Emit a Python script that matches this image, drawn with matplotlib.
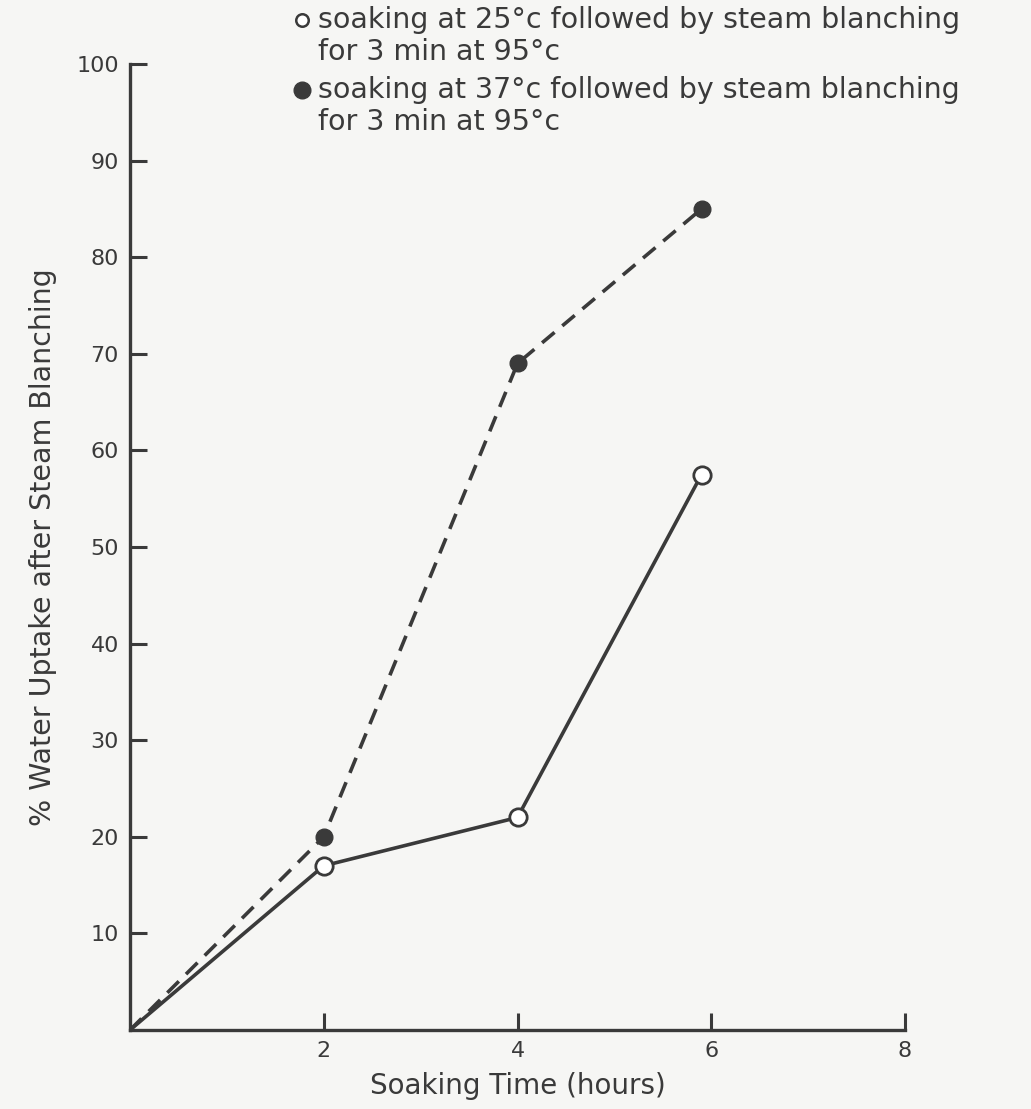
import matplotlib
matplotlib.use('Agg')
import matplotlib.pyplot as plt
from matplotlib.lines import Line2D

# data
hours_25 = [0, 2, 4, 5.9]
uptake_25 = [0, 17, 22, 57.5]
hours_37 = [0, 2, 4, 5.9]
uptake_37 = [0, 20, 69, 85]

label_25 = ['soaking at 25°c followed by steam blanching', 'for 3 min at 95°c']
label_37 = ['soaking at 37°c followed by steam blanching', 'for 3 min at 95°c']
xticks = [2, 4, 6, 8]
yticks = [10, 20, 30, 40, 50, 60, 70, 80, 90, 100]

ink = '#3a3a3a'
bg = '#f6f6f4'
plt.rcParams['font.family'] = ['DejaVu Sans']

fig = plt.figure(figsize=(10.31, 11.09), dpi=100, facecolor=bg)
ax = fig.add_axes([130/1031, 79/1109, 775/1031, 966/1109])
ax.set_facecolor(bg)

# origin has no symbol in the original, only the lines meeting there
ax.plot(hours_37, uptake_37, color=ink, lw=2.6, ls=(0, (4.5, 2.8)),
        marker='o', ms=12, mfc=ink, mec=ink, markevery=[1, 2, 3], zorder=3)
ax.plot(hours_25, uptake_25, color=ink, lw=2.6, ls='-',
        marker='o', ms=12.5, mfc='white', mec=ink, mew=2, markevery=[1, 2, 3], zorder=4)

ax.set_xlim(0, 8)
ax.set_ylim(0, 100)
ax.set_xticks(xticks)
ax.set_yticks(yticks)
ax.tick_params(direction='in', length=12, width=2.2, color=ink,
               labelsize=16, labelcolor=ink, pad=8)
for s in ['top', 'right']:
    ax.spines[s].set_visible(False)
for s in ['left', 'bottom']:
    ax.spines[s].set_linewidth(2.4)
    ax.spines[s].set_color(ink)
ax.spines['left'].set_bounds(0, 100)

ax.set_xlabel('Soaking Time (hours)', fontsize=20, color=ink, labelpad=8)
ax.set_ylabel('% Water Uptake after Steam Blanching', fontsize=20.5, color=ink, labelpad=14)

# legend block at the top
fs = 20.5
fig.add_artist(Line2D([302/1031], [1 - 20/1109], transform=fig.transFigure,
                      marker='o', ms=9, mfc='white', mec=ink, mew=1.8, ls='none'))
fig.text(318/1031, 1 - 20/1109, label_25[0], fontsize=fs, color=ink, va='center')
fig.text(318/1031, 1 - 52/1109, label_25[1], fontsize=fs, color=ink, va='center')
fig.add_artist(Line2D([302/1031], [1 - 90/1109], transform=fig.transFigure,
                      marker='o', ms=12, mfc=ink, mec=ink, ls='none'))
fig.text(318/1031, 1 - 90/1109, label_37[0], fontsize=fs, color=ink, va='center')
fig.text(318/1031, 1 - 122/1109, label_37[1], fontsize=fs, color=ink, va='center')

fig.savefig('out.png', dpi=100, facecolor=bg)
